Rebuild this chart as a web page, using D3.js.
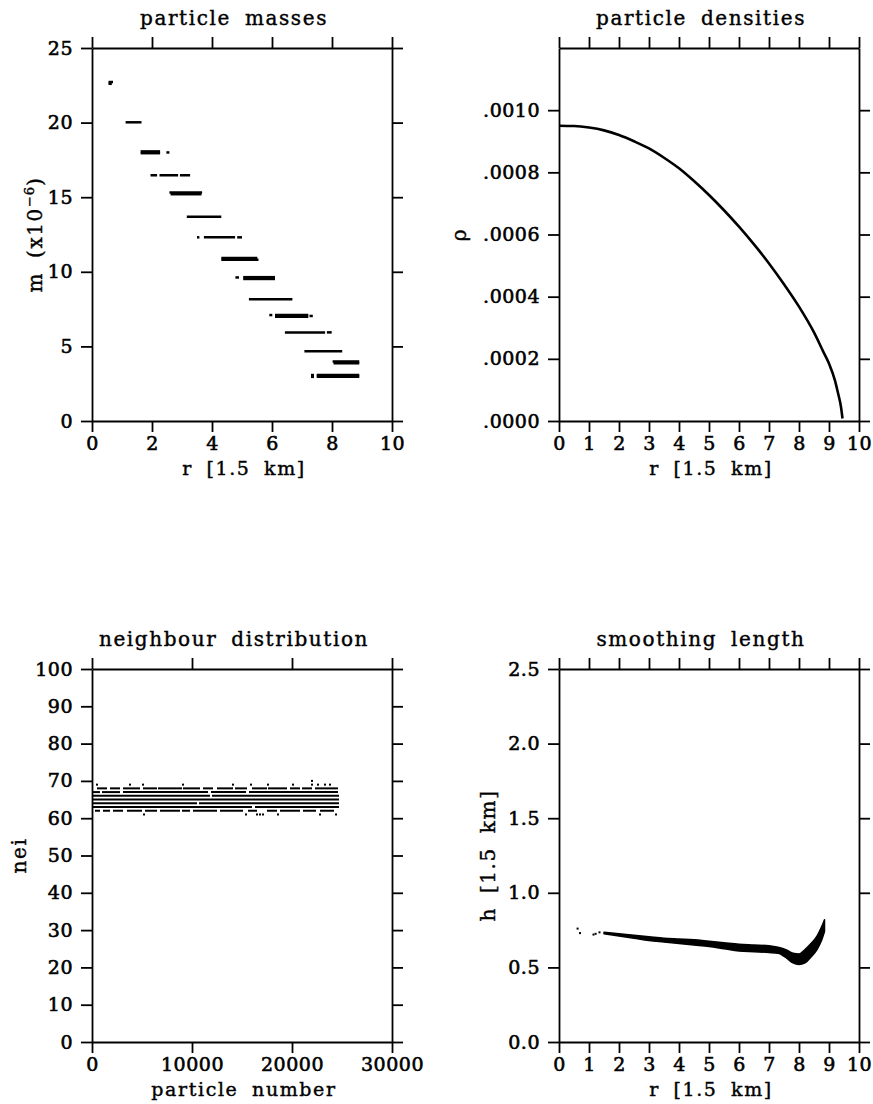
<!DOCTYPE html>
<html lang="en">
<head>
    <meta charset="UTF-8">
    <title>SPH particle diagnostics</title>
    <script src="https://cdnjs.cloudflare.com/ajax/libs/d3/7.8.5/d3.min.js"></script>
    <style>
        body { margin: 0; background: #fff; }
        svg text { font-family: "DejaVu Serif", serif; fill: #000; }
        .axis path, .axis line { stroke: #000; stroke-width: 1.8px; }
        .axis text { font-size: 19px; letter-spacing: 0.5px; font-family: "DejaVu Serif", serif;
                     stroke: #000; stroke-width: 0.6px; }
        .lbl { font-size: 20px; letter-spacing: 1.6px; word-spacing: 6px; stroke: #000; stroke-width: 0.4px; }
        .xlbl { font-size: 19px; }
    </style>
</head>
<body>
<svg width="873" height="1104"></svg>

<script>
    // ---- particle masses: segments of particles with the same mass (m in 1e-6, r range)
    const segMass   = [22.72, 22.6, 20.02, 18.07, 17.95, 18.0, 16.47, 16.47, 16.47, 15.32, 15.2, 13.69,
                       12.31, 12.31, 12.31, 10.92, 10.8, 9.64, 9.52, 9.62, 8.16, 7.1, 7.1, 6.98, 7.04,
                       5.94, 5.94, 4.67, 3.99, 3.87, 3.08, 3.08, 2.96, 2.96];
    const segRStart = [0.55, 0.55, 1.12, 1.62, 1.62, 2.48, 1.95, 2.25, 2.93, 2.58, 2.62, 3.16,
                       3.50, 3.73, 4.84, 4.31, 4.31, 5.04, 5.04, 4.78, 5.23, 5.91, 6.10, 6.10, 7.25,
                       6.43, 7.83, 7.08, 8.02, 8.05, 7.30, 7.49, 7.49, 7.30];
    const segREnd   = [0.70, 0.66, 1.65, 2.27, 2.27, 2.58, 2.17, 2.87, 3.27, 3.67, 3.65, 4.31,
                       3.58, 4.77, 5.00, 5.51, 5.55, 6.10, 6.10, 4.90, 6.68, 6.01, 7.21, 7.21, 7.36,
                       7.77, 7.99, 8.34, 8.91, 8.91, 7.40, 8.91, 8.91, 7.40];

    // ---- particle densities
    const rhoR   = [0, 0.5, 1, 1.5, 2, 2.5, 3, 3.5, 4, 4.5, 5, 5.5, 6, 6.5, 7, 7.5, 8, 8.5, 8.8, 9.0, 9.2, 9.3, 9.4, 9.45];
    const rhoVal = [9.50e-4, 9.49e-4, 9.44e-4, 9.35e-4, 9.20e-4, 9.00e-4, 8.77e-4, 8.47e-4, 8.13e-4, 7.72e-4,
                    7.27e-4, 6.78e-4, 6.25e-4, 5.68e-4, 5.07e-4, 4.40e-4, 3.68e-4, 2.85e-4, 2.25e-4,
                    1.85e-4, 1.30e-4, 0.90e-4, 0.45e-4, 0.08e-4];

    // ---- neighbour distribution: runs of particle numbers with a given neighbour count
    const neiLevels = [68, 67, 66, 65, 64, 63, 62];
    const neiRuns = [
        [[500, 1500], [1800, 2800], [3100, 4800], [5100, 6500], [6600, 9000], [9100, 10800], [11100, 12100],
         [12500, 14100], [14300, 15500], [16000, 17500], [17600, 19500], [19800, 20800], [21000, 22000], [22300, 24600]],
        [[0, 800], [1000, 2800], [3100, 11600], [11900, 15400], [15700, 24600]],
        [[0, 11800], [12000, 24700]],
        [[0, 24700]],
        [[0, 10500], [10700, 24700]],
        [[0, 16000], [16300, 24700]],
        [[300, 800], [1100, 1800], [2100, 3100], [3500, 5000], [5300, 6500], [6800, 8800], [9000, 9800],
         [10100, 12500], [12800, 15100], [15600, 16500], [17500, 18500], [18800, 20800], [21100, 22400], [22800, 24200]]
    ];
    const neiDotN = [500, 3800, 5100, 9100, 14100, 15900, 17600, 20100, 22000, 22600, 23300, 23800, 22000,
                     5200, 15400, 16500, 16800, 17100, 18600, 22800, 24400];
    const neiDotV = [69, 69, 69, 69, 69, 69, 69, 69, 69, 69, 69, 69, 70,
                     61, 61, 61, 61, 61, 61, 61, 61];

    // ---- smoothing length: envelope of the particle cloud
    const hR   = [1.5, 2.0, 2.5, 3.0, 3.5, 4.0, 4.5, 5.0, 5.5, 6.0, 6.5, 7.0, 7.3, 7.6, 7.8, 8.0, 8.2, 8.4, 8.6, 8.75, 8.85];
    const hTop = [0.735, 0.725, 0.715, 0.705, 0.695, 0.69, 0.685, 0.675, 0.665, 0.655, 0.65, 0.645, 0.635, 0.615, 0.595, 0.59, 0.62, 0.66, 0.71, 0.77, 0.82];
    const hBot = [0.725, 0.71, 0.695, 0.68, 0.67, 0.66, 0.65, 0.64, 0.625, 0.61, 0.605, 0.60, 0.595, 0.56, 0.53, 0.52, 0.53, 0.57, 0.62, 0.68, 0.74];
    const hLoneR = [0.62, 0.70, 1.15, 1.22, 1.35];
    const hLoneH = [0.76, 0.73, 0.72, 0.725, 0.735];

    const svg = d3.select("svg");
    svg.append("rect").attr("width", 873).attr("height", 1104).attr("fill", "#fff");

    const TICK = 11;

    function frame(g, x, y, xTicks, yTicks, xFmt, yFmt, w, h) {
        g.append("g").attr("class", "axis").attr("transform", `translate(0,${h})`)
            .call(d3.axisBottom(x).tickValues(xTicks).tickSize(TICK).tickSizeOuter(0).tickPadding(5).tickFormat(xFmt));
        g.append("g").attr("class", "axis")
            .call(d3.axisTop(x).tickValues(xTicks).tickSize(TICK).tickSizeOuter(0).tickFormat(""));
        g.append("g").attr("class", "axis")
            .call(d3.axisLeft(y).tickValues(yTicks).tickSize(TICK).tickSizeOuter(0).tickPadding(8).tickFormat(yFmt));
        g.append("g").attr("class", "axis").attr("transform", `translate(${w},0)`)
            .call(d3.axisRight(y).tickValues(yTicks).tickSize(TICK).tickSizeOuter(0).tickFormat(""));
        g.selectAll(".axis text").attr("font-family", "DejaVu Serif");
    }

    function titles(g, w, h, title, xlab, ylabX) {
        g.append("text").attr("class", "lbl").attr("x", w / 2 - 8).attr("y", -23)
            .attr("text-anchor", "middle").text(title);
        g.append("text").attr("class", "lbl xlbl").attr("x", w / 2 + 2).attr("y", h + 54)
            .attr("text-anchor", "middle").text(xlab);
        return g.append("text").attr("class", "lbl")
            .attr("transform", `translate(${ylabX},${h / 2}) rotate(-90)`)
            .attr("text-anchor", "middle");
    }

    const W = 300, H = 373;

    // ===== panel 1: particle masses
    {
        const g = svg.append("g").attr("transform", "translate(92,48)");
        const x = d3.scaleLinear().domain([0, 10]).range([0, W]);
        const y = d3.scaleLinear().domain([0, 25]).range([H, 0]);
        g.append("g").selectAll("line").data(segMass).join("line")
            .attr("x1", (d, i) => x(segRStart[i])).attr("x2", (d, i) => x(segREnd[i]))
            .attr("y1", d => y(d)).attr("y2", d => y(d))
            .attr("stroke", "#000").attr("stroke-width", 2.5);
        frame(g, x, y, d3.range(0, 11, 2), d3.range(0, 26, 5), d3.format("d"), d3.format("d"), W, H);
        const yl = titles(g, W, H, "particle masses", "r [1.5 km]", -50);
        yl.append("tspan").text("m  (x10");
        yl.append("tspan").attr("font-size", "13px").attr("dy", "-8").attr("letter-spacing", "1px").text("−6");
        yl.append("tspan").attr("dy", "8").text(")");
    }

    // ===== panel 2: particle densities
    {
        const g = svg.append("g").attr("transform", "translate(559,48)");
        const x = d3.scaleLinear().domain([0, 10]).range([0, W]);
        const y = d3.scaleLinear().domain([0, 0.0012]).range([H, 0]);
        const line = d3.line().x((d, i) => x(rhoR[i])).y(d => y(d)).curve(d3.curveMonotoneX);
        g.append("path").datum(rhoVal).attr("d", line)
            .attr("fill", "none").attr("stroke", "#000").attr("stroke-width", 2.6);
        frame(g, x, y, d3.range(0, 11, 1), d3.range(0, 0.00101, 0.0002),
            d3.format("d"), d => d3.format(".4f")(d).replace(/^0/, ""), W, H);
        const yl = titles(g, W, H, "particle densities", "r [1.5 km]", -93);
        yl.text("ρ");
    }

    // ===== panel 3: neighbour distribution
    {
        const g = svg.append("g").attr("transform", "translate(92,669)");
        const x = d3.scaleLinear().domain([0, 30000]).range([0, W]);
        const y = d3.scaleLinear().domain([0, 100]).range([H, 0]);
        neiLevels.forEach((lev, k) => {
            g.append("g").selectAll("line").data(neiRuns[k]).join("line")
                .attr("x1", d => x(d[0])).attr("x2", d => x(d[1]))
                .attr("y1", y(lev)).attr("y2", y(lev))
                .attr("stroke", "#000").attr("stroke-width", 2);
        });
        g.append("g").selectAll("rect").data(neiDotN).join("rect")
            .attr("x", d => x(d) - 1).attr("y", (d, i) => y(neiDotV[i]) - 1)
            .attr("width", 2).attr("height", 2).attr("fill", "#000");
        frame(g, x, y, d3.range(0, 30001, 10000), d3.range(0, 101, 10), d3.format("d"), d3.format("d"), W, H);
        const yl = titles(g, W, H, "neighbour distribution", "particle number", -66);
        yl.text("nei");
    }

    // ===== panel 4: smoothing length
    {
        const g = svg.append("g").attr("transform", "translate(559,669)");
        const x = d3.scaleLinear().domain([0, 10]).range([0, W]);
        const y = d3.scaleLinear().domain([0, 2.5]).range([H, 0]);
        const area = d3.area().x((d, i) => x(hR[i])).y0((d, i) => y(hBot[i])).y1(d => y(d))
            .curve(d3.curveMonotoneX);
        g.append("path").datum(hTop).attr("d", area).attr("fill", "#000")
            .attr("stroke", "#000").attr("stroke-width", 1.5).attr("stroke-linejoin", "round");
        g.append("g").selectAll("rect").data(hLoneR).join("rect")
            .attr("x", d => x(d) - 1).attr("y", (d, i) => y(hLoneH[i]) - 1)
            .attr("width", 2).attr("height", 2).attr("fill", "#000");
        frame(g, x, y, d3.range(0, 11, 1), d3.range(0, 2.51, 0.5), d3.format("d"), d3.format(".1f"), W, H);
        const yl = titles(g, W, H, "smoothing length", "r [1.5 km]", -64);
        yl.text("h [1.5 km]");
    }
</script>
</body>
</html>
